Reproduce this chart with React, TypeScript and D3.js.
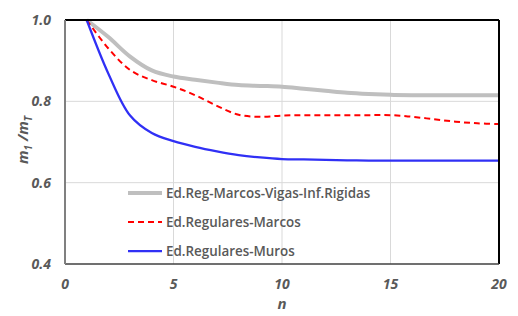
import React from "react";
import * as d3 from "d3";

const nValues = [1, 2, 3, 4, 5, 6, 7, 8, 9, 10, 11, 12, 13, 14, 15, 16, 17, 18, 19, 20];
const grayValues = [1.0, 0.958, 0.91, 0.876, 0.861, 0.853, 0.846, 0.840, 0.838, 0.836, 0.831, 0.826, 0.821, 0.818, 0.816, 0.815, 0.815, 0.815, 0.815, 0.815];
const redValues = [1.0, 0.93, 0.877, 0.852, 0.836, 0.815, 0.789, 0.767, 0.762, 0.765, 0.766, 0.766, 0.766, 0.766, 0.766, 0.762, 0.756, 0.750, 0.746, 0.744];
const blueValues = [1.0, 0.868, 0.765, 0.722, 0.702, 0.688, 0.677, 0.668, 0.662, 0.658, 0.657, 0.656, 0.655, 0.654, 0.654, 0.654, 0.654, 0.654, 0.654, 0.654];
const xTicks = [0, 5, 10, 15, 20];
const yTicks = [0.4, 0.6, 0.8, 1.0];
const seriesNames = ["Ed.Reg-Marcos-Vigas-Inf.Rigidas", "Ed.Regulares-Marcos", "Ed.Regulares-Muros"];

const W = 518, H = 316;
const L = 65, R = 499, T = 20, B = 264;

export default function App() {
  const x = d3.scaleLinear().domain([0, 20]).range([L, R]);
  const y = d3.scaleLinear().domain([0.4, 1.0]).range([B, T]);
  const line = (vals: number[]) =>
    d3.line<number>().x((_, i) => x(nValues[i])).y((v) => y(v)).curve(d3.curveCatmullRom.alpha(0.5))(vals) || "";
  const styles = [
    { stroke: "#bfbfbf", width: 4, dash: undefined as string | undefined },
    { stroke: "#ff0000", width: 2, dash: "6,4" },
    { stroke: "#3030f5", width: 2.25, dash: undefined },
  ];
  const data = [grayValues, redValues, blueValues];
  const font = "'Open Sans', sans-serif";
  const legendY = [193, 222, 251];
  return (
    <svg width={W} height={H} style={{ position: "absolute", left: 0, top: 0, background: "#fff" }}>
      <rect x={0} y={0} width={W} height={H} fill="#fff" />
      {xTicks.slice(1, -1).map((t) => (
        <line key={"gx" + t} x1={x(t)} x2={x(t)} y1={T} y2={B} stroke="#d9d9d9" strokeWidth={1} />
      ))}
      {yTicks.slice(1, -1).map((t) => (
        <line key={"gy" + t} x1={L} x2={R} y1={y(t)} y2={y(t)} stroke="#d9d9d9" strokeWidth={1} />
      ))}
      {data.map((vals, i) => (
        <path key={i} d={line(vals)} fill="none" stroke={styles[i].stroke} strokeWidth={styles[i].width}
          strokeDasharray={styles[i].dash} />
      ))}
      <line x1={L} x2={R} y1={T} y2={T} stroke="#000" strokeWidth={2} />
      <line x1={R} x2={R} y1={T} y2={B} stroke="#000" strokeWidth={2} />
      <line x1={L} x2={R} y1={B} y2={B} stroke="#404040" strokeWidth={1.5} />
      <line x1={L} x2={L} y1={T} y2={B} stroke="#808080" strokeWidth={2} />
      {seriesNames.map((name, i) => (
        <g key={name}>
          <line x1={128} x2={162} y1={legendY[i]} y2={legendY[i]} stroke={styles[i].stroke}
            strokeWidth={styles[i].width} strokeDasharray={styles[i].dash} />
          <text x={166} y={legendY[i]} dy="0.35em" fontFamily={font} fontSize={13.4} fontWeight={600} fill="#595959">{name}</text>
        </g>
      ))}
      {yTicks.map((t) => (
        <text key={"yt" + t} x={51} y={y(t)} dy="0.35em" textAnchor="end" fontFamily={font} fontSize={14}
          fontWeight="bold" fontStyle="italic" fill="#595959">{t.toFixed(1)}</text>
      ))}
      {xTicks.map((t) => (
        <text key={"xt" + t} x={x(t)} y={284} dy="0.35em" textAnchor="middle" fontFamily={font} fontSize={14}
          fontWeight="bold" fontStyle="italic" fill="#595959">{t}</text>
      ))}
      <text x={x(10)} y={304} dy="0.35em" textAnchor="middle" fontFamily={font} fontSize={15}
        fontWeight="bold" fontStyle="italic" fill="#595959">n</text>
      <text transform={`translate(23,140) rotate(-90)`} textAnchor="middle" dy="0.35em" fontFamily={font}
        fontSize={15} fontWeight="bold" fontStyle="italic" fill="#595959">
        m<tspan fontSize={10} dy="4">1</tspan><tspan dy="-4"> /m</tspan><tspan fontSize={10} dy="4">T</tspan>
      </text>
    </svg>
  );
}
